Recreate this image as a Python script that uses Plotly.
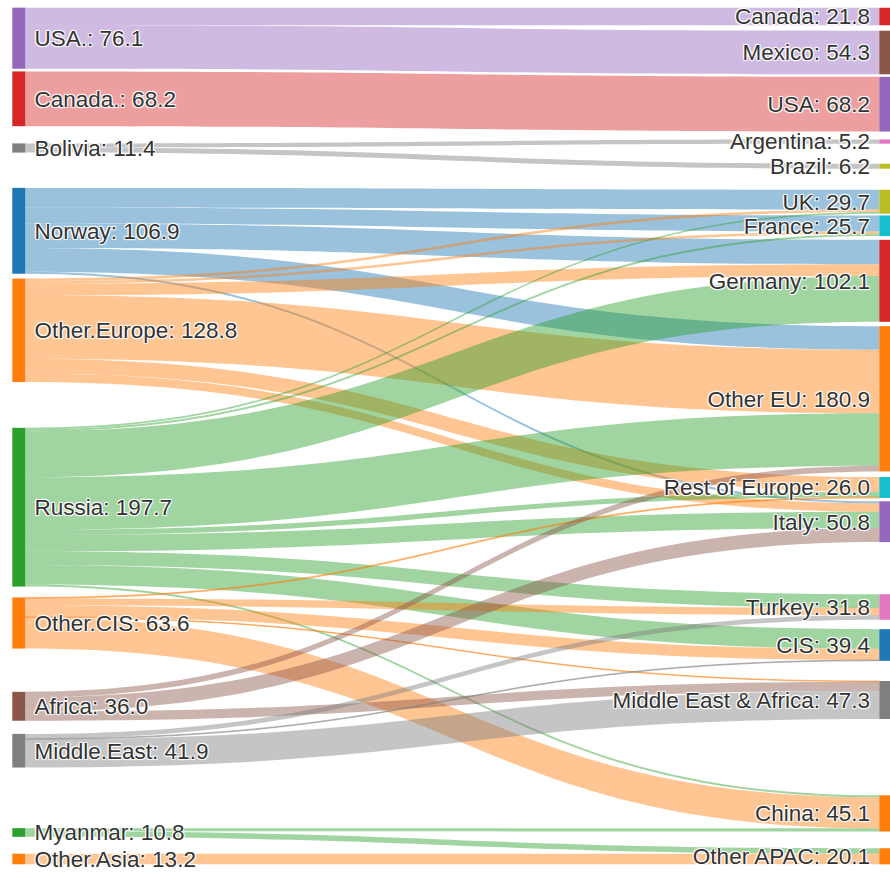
import plotly.graph_objects as go

# Pipeline gas trade, bcm: exporters on the left, importers on the right
exporters = ["USA.", "Canada.", "Bolivia", "Norway", "Other.Europe", "Russia",
             "Other.CIS", "Africa", "Middle.East", "Myanmar", "Other.Asia"]
importers = ["Canada", "Mexico", "USA", "Argentina", "Brazil", "UK", "France",
             "Germany", "Other EU", "Rest of Europe", "Italy", "Turkey", "CIS",
             "Middle East & Africa", "China", "Other APAC"]

flow_from = ["USA.", "USA.",
             "Canada.",
             "Bolivia", "Bolivia",
             "Norway", "Norway", "Norway", "Norway", "Norway",
             "Other.Europe", "Other.Europe", "Other.Europe", "Other.Europe", "Other.Europe", "Other.Europe",
             "Russia", "Russia", "Russia", "Russia", "Russia", "Russia", "Russia", "Russia", "Russia",
             "Other.CIS", "Other.CIS", "Other.CIS", "Other.CIS", "Other.CIS",
             "Africa", "Africa", "Africa",
             "Middle.East", "Middle.East", "Middle.East",
             "Myanmar", "Myanmar",
             "Other.Asia"]
flow_to = ["Canada", "Mexico",
           "USA",
           "Argentina", "Brazil",
           "UK", "France", "Germany", "Other EU", "Italy",
           "UK", "France", "Germany", "Other EU", "Rest of Europe", "Italy",
           "UK", "France", "Germany", "Other EU", "Rest of Europe", "Italy", "Turkey", "CIS", "China",
           "Rest of Europe", "Turkey", "CIS", "Middle East & Africa", "China",
           "Other EU", "Italy", "Middle East & Africa",
           "Turkey", "CIS", "Middle East & Africa",
           "China", "Other APAC",
           "Other APAC"]
flow_bcm = [21.8, 54.3,
            68.2,
            5.2, 6.2,
            24.5, 20.0, 30.5, 29.4, 2.5,
            3.2, 3.2, 14.5, 79.0, 18.4, 10.5,
            2.0, 2.5, 57.1, 65.5, 6.4, 20.3, 17.0, 24.4, 2.5,
            1.2, 8.9, 14.0, 0.8, 38.7,
            7.0, 17.5, 11.5,
            5.9, 1.0, 35.0,
            3.9, 6.9,
            13.2]

exporter_colors = ["#9467bd", "#d62728", "#7f7f7f", "#1f77b4", "#ff7f0e", "#2ca02c",
                   "#ff7f0e", "#8c564b", "#7f7f7f", "#2ca02c", "#ff7f0e"]
importer_colors = ["#d62728", "#8c564b", "#9467bd", "#e377c2", "#bcbd22", "#bcbd22",
                   "#17becf", "#d62728", "#ff7f0e", "#17becf", "#9467bd", "#e377c2",
                   "#1f77b4", "#7f7f7f", "#ff7f0e", "#ff7f0e"]

# Node placement (vertical centres in px of the plot height, horizontal columns)
W, H = 890, 876
exporter_centres = [38.2, 98.8, 148.0, 230.8, 330.3, 507.2, 623.0, 706.3, 750.7, 832.5, 859.0]
importer_centres = [16.5, 52.5, 104.2, 141.6, 166.2, 201.7, 225.8, 280.8, 398.8, 487.5,
                    521.7, 607.0, 645.0, 700.0, 813.4, 856.3]
left_col, right_col = 18.8 / W, 885.8 / W


def hex_rgba(h, a):
    h = h.lstrip("#")
    r, g, b = int(h[0:2], 16), int(h[2:4], 16), int(h[4:6], 16)
    return f"rgba({r},{g},{b},{a})"


n_exp = len(exporters)
src = [exporters.index(s) for s in flow_from]
dst = [n_exp + importers.index(t) for t in flow_to]

out_tot = [sum(v for s, v in zip(flow_from, flow_bcm) if s == e) for e in exporters]
in_tot = [sum(v for t, v in zip(flow_to, flow_bcm) if t == i) for i in importers]

# a non-breaking space keeps the labels clear of the node bars
NB = "\u00a0"
labels = [f"{NB}{n}: {v:.1f}" for n, v in zip(exporters, out_tot)] + \
         [f"{n}: {v:.1f}{NB}" for n, v in zip(importers, in_tot)]
node_colors = exporter_colors + importer_colors
link_colors = [hex_rgba(exporter_colors[s], 0.45) for s in src]

node_x = [left_col] * n_exp + [right_col] * len(importers)
node_y = [c / H for c in exporter_centres] + [c / H for c in importer_centres]

fig = go.Figure(go.Sankey(
    arrangement="fixed",
    node=dict(
        label=labels,
        color=node_colors,
        x=node_x,
        y=node_y,
        pad=18,
        thickness=13,
        line=dict(width=0),
    ),
    link=dict(source=src, target=dst, value=flow_bcm, color=link_colors),
    textfont=dict(family="Arial, Liberation Sans, sans-serif", size=22.5, color="#333"),
))

fig.update_layout(
    width=W, height=H,
    margin=dict(l=0, r=0, t=0, b=0),
    paper_bgcolor="white",
)

fig.write_html("out.html")
